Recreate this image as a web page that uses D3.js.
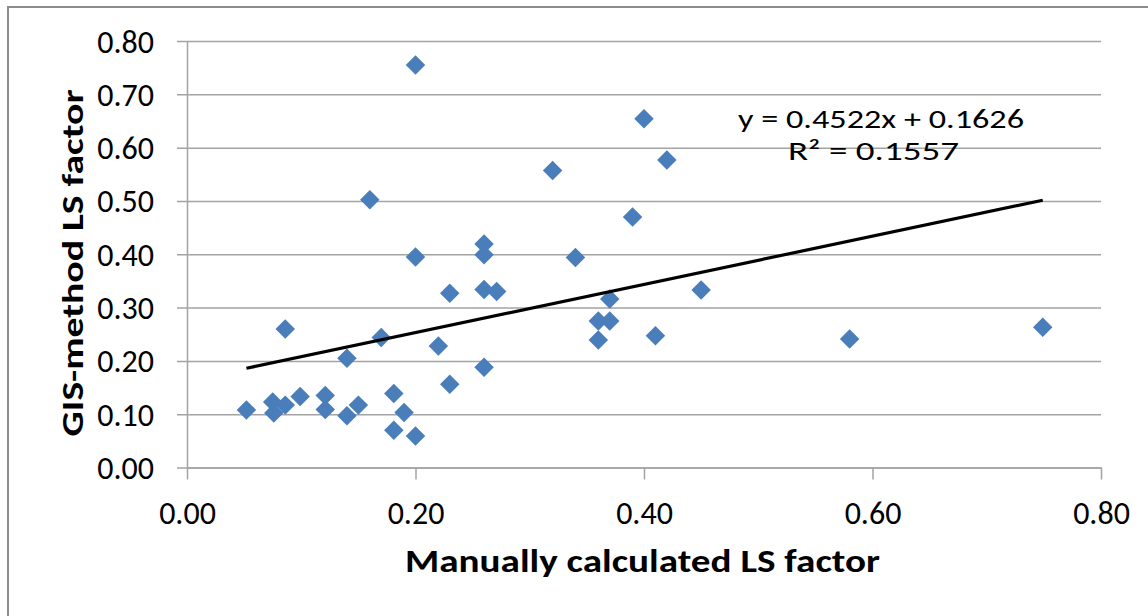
<!DOCTYPE html>
<html>
<head>
<meta charset="utf-8">
<script src="https://cdn.jsdelivr.net/npm/d3@7"></script>
<style>
  html, body { margin: 0; padding: 0; background: #ffffff; }
  svg { display: block; }
  text { font-family: Carlito, Lato, "Open Sans", sans-serif; fill: #000; }
</style>
</head>
<body>
<svg id="chart" width="1148" height="616"></svg>
<script>
// Manually calculated LS factor (x) vs GIS-method LS factor (y)
const manualLS = [0.052, 0.075, 0.076, 0.086, 0.086, 0.099, 0.121, 0.121, 0.140, 0.140,
                  0.150, 0.160, 0.170, 0.181, 0.181, 0.190, 0.200, 0.200, 0.200, 0.220,
                  0.230, 0.230, 0.260, 0.260, 0.260, 0.260, 0.271, 0.320, 0.340, 0.360,
                  0.360, 0.370, 0.370, 0.390, 0.400, 0.410, 0.420, 0.450, 0.580, 0.749];
const gisLS    = [0.108, 0.123, 0.102, 0.117, 0.260, 0.133, 0.135, 0.109, 0.205, 0.097,
                  0.117, 0.502, 0.244, 0.139, 0.070, 0.103, 0.755, 0.395, 0.059, 0.228,
                  0.327, 0.156, 0.419, 0.399, 0.334, 0.188, 0.330, 0.557, 0.394, 0.275,
                  0.239, 0.316, 0.275, 0.470, 0.654, 0.247, 0.577, 0.333, 0.241, 0.263];

// Linear trendline as reported on the chart
const trendSlope = [0.4522];
const trendIntercept = [0.1626];
const trendLabels = ["y = 0.4522x + 0.1626", "R² = 0.1557"];

const xTicks = [0, 0.2, 0.4, 0.6, 0.8];
const yTicks = [0, 0.1, 0.2, 0.3, 0.4, 0.5, 0.6, 0.7, 0.8];
const xTitle = "Manually calculated LS factor";
const yTitle = "GIS-method LS factor";

const svg = d3.select("#chart");

// outer chart frame
svg.append("rect")
  .attr("x", 8).attr("y", 7).attr("width", 1300).attr("height", 800)
  .attr("fill", "#fff").attr("stroke", "#8c8c8c").attr("stroke-width", 2);

const x = d3.scaleLinear().domain([0, 0.8]).range([187, 1101]);
const y = d3.scaleLinear().domain([0, 0.8]).range([467.5, 41]);

const gridColor = "#a3a3a3";
const fmt = d3.format(".2f");
const tickFont = "32px";

// horizontal gridlines + y axis ticks/labels
const yAxis = d3.axisLeft(y).tickValues(yTicks).tickFormat(fmt)
  .tickSizeInner(-(x.range()[1] - x.range()[0])).tickSizeOuter(0).tickPadding(0);
const gy = svg.append("g").attr("transform", `translate(${x(0)},0)`).call(yAxis);
gy.select(".domain").attr("stroke", gridColor).attr("stroke-width", 1.5);
gy.selectAll(".tick line").attr("stroke", gridColor).attr("stroke-width", 1.5)
  .attr("x1", -10);
gy.selectAll(".tick text")
  .attr("x", -33).attr("dy", null).attr("y", 11)
  .style("font-size", tickFont).style("font-family", "Carlito, Lato, sans-serif")
  .attr("fill", "#000");

// x axis ticks/labels
const xAxis = d3.axisBottom(x).tickValues(xTicks).tickFormat(fmt)
  .tickSizeInner(12).tickSizeOuter(0).tickPadding(0);
const gx = svg.append("g").attr("transform", `translate(0,${y(0)})`).call(xAxis);
gx.select(".domain").attr("stroke", gridColor).attr("stroke-width", 1.5);
gx.selectAll(".tick line").attr("stroke", gridColor).attr("stroke-width", 1.5);
gx.selectAll(".tick text")
  .attr("y", 56).attr("dy", null)
  .style("font-size", tickFont).style("font-family", "Carlito, Lato, sans-serif")
  .attr("fill", "#000");

// scatter points (diamonds)
const pts = d3.range(manualLS.length).map(i => ({ x: manualLS[i], y: gisLS[i] }));
const diamond = d3.symbol().type(d3.symbolSquare).size(190);
svg.append("g").selectAll("path").data(pts).join("path")
  .attr("d", diamond)
  .attr("transform", d => `translate(${x(d.x)},${y(d.y)}) rotate(45)`)
  .attr("fill", "#4a7ebb");

// trendline over the data range
const xMin = d3.min(manualLS), xMax = d3.max(manualLS);
const trend = [xMin, xMax].map(v => ({ x: v, y: trendSlope[0] * v + trendIntercept[0] }));
svg.append("path")
  .datum(trend)
  .attr("d", d3.line().x(d => x(d.x)).y(d => y(d.y)))
  .attr("fill", "none").attr("stroke", "#000").attr("stroke-width", 3.2);

// trendline equation
svg.append("text").attr("x", 881).attr("y", 128).attr("text-anchor", "middle")
  .style("font-size", "26px")
  .attr("textLength", 286).attr("lengthAdjust", "spacingAndGlyphs")
  .text(trendLabels[0]);
svg.append("text").attr("x", 873.5).attr("y", 160).attr("text-anchor", "middle")
  .style("font-size", "26px")
  .attr("textLength", 171).attr("lengthAdjust", "spacingAndGlyphs")
  .text(trendLabels[1]);

// axis titles
svg.append("text").attr("x", 642.5).attr("y", 572).attr("text-anchor", "middle")
  .style("font-size", "33px").style("font-weight", "bold")
  .attr("textLength", 475).attr("lengthAdjust", "spacingAndGlyphs")
  .text(xTitle);
svg.append("text")
  .attr("transform", "translate(83,263) rotate(-90)")
  .attr("text-anchor", "middle")
  .style("font-size", "31px").style("font-weight", "bold")
  .attr("textLength", 347).attr("lengthAdjust", "spacingAndGlyphs")
  .text(yTitle);
</script>
</body>
</html>
